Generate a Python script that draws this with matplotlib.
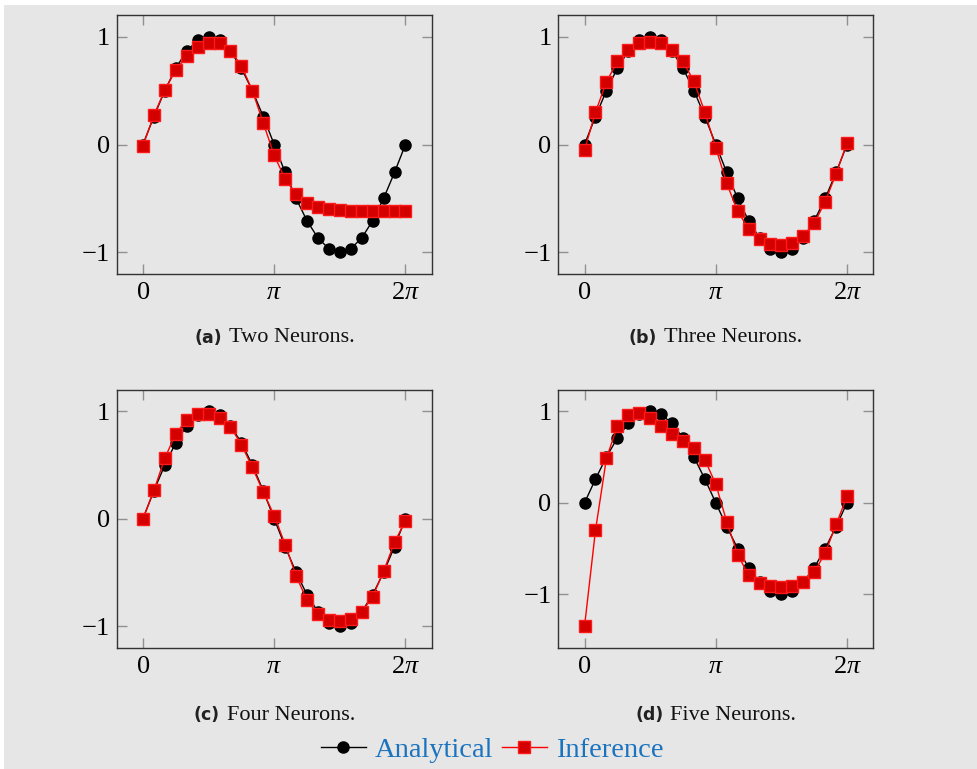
import numpy as np
import matplotlib
matplotlib.use("Agg")
import matplotlib.pyplot as plt
from matplotlib.lines import Line2D

plt.rcParams['mathtext.fontset'] = 'custom'
plt.rcParams['mathtext.rm'] = 'Liberation Serif'
plt.rcParams['mathtext.it'] = 'Liberation Serif:italic'
plt.rcParams['font.family'] = ['Liberation Serif', 'DejaVu Serif']

# ---- data ----
n_points = 25
x_fractions = [i / 12 for i in range(n_points)]  # multiples of pi (0 .. 2)

analytical = [0.0, 0.259, 0.5, 0.707, 0.866, 0.966, 1.0, 0.966, 0.866, 0.707, 0.5, 0.259,
              0.0, -0.259, -0.5, -0.707, -0.866, -0.966, -1.0, -0.966, -0.866, -0.707, -0.5, -0.259, 0.0]

inference_two = [-0.01, 0.27, 0.505, 0.69, 0.82, 0.90, 0.944, 0.938, 0.87, 0.73, 0.50, 0.20,
                 -0.10, -0.32, -0.46, -0.54, -0.58, -0.60, -0.61, -0.613, -0.616, -0.616, -0.616, -0.616, -0.616]
inference_three = [-0.05, 0.30, 0.58, 0.77, 0.88, 0.94, 0.95, 0.94, 0.876, 0.77, 0.585, 0.30,
                   -0.03, -0.36, -0.62, -0.78, -0.876, -0.92, -0.935, -0.913, -0.85, -0.73, -0.53, -0.27, 0.015]
inference_four = [0.0, 0.263, 0.563, 0.79, 0.92, 0.972, 0.978, 0.94, 0.854, 0.69, 0.477, 0.25,
                  0.028, -0.24, -0.53, -0.76, -0.886, -0.94, -0.95, -0.93, -0.867, -0.725, -0.49, -0.22, -0.02]
inference_five = [-1.347, -0.30, 0.485, 0.837, 0.96, 0.978, 0.93, 0.837, 0.75, 0.67, 0.60, 0.47,
                  0.203, -0.207, -0.566, -0.79, -0.874, -0.91, -0.92, -0.91, -0.864, -0.757, -0.548, -0.236, 0.07]

panels = [("(a)", "Two Neurons.", inference_two),
          ("(b)", "Three Neurons.", inference_three),
          ("(c)", "Four Neurons.", inference_four),
          ("(d)", "Five Neurons.", inference_five)]

xtick_labels = ['$0$', r'$\pi$', r'$2\pi$']
ytick_vals = [-1, 0, 1]
ytick_labels = ['$-1$', '$0$', '$1$']

# ---- figure ----
W, H = 978, 769
fig = plt.figure(figsize=(W / 100, H / 100), dpi=100, facecolor='white')
bg = '#e6e6e6'
fig.patches.append(plt.Rectangle((4 / W, 0), (977 - 4) / W, (H - 5) / H,
                                 transform=fig.transFigure, facecolor=bg, edgecolor='none', zorder=-10))

boxes = [(116.7, 15, 431.7, 274), (558.3, 15, 873.3, 274),
         (116.7, 389.7, 431.7, 647.7), (558.3, 389.7, 873.3, 647.7)]
cap_y = [338, 338, 715, 715]

x = np.array(x_fractions) * np.pi
caps = []
for (lab, title, inf), (l, t, r, b), cy in zip(panels, boxes, cap_y):
    ax = fig.add_axes([l / W, 1 - b / H, (r - l) / W, (b - t) / H])
    ax.set_facecolor(bg)
    ax.plot(x, analytical, color='black', lw=1.0, marker='o', ms=8, mfc='black', mec='black', zorder=3)
    ax.plot(x, inf, color='#ff0000', lw=1.0, marker='s', ms=8.5, mfc='#d40000', mec='#ff1a1a', mew=1.0, zorder=4)
    lo = min(min(analytical), min(inf))
    hi = max(max(analytical), max(inf))
    rng = hi - lo
    ax.set_ylim(lo - 0.1 * rng, hi + 0.1 * rng)
    ax.set_xlim(-0.2 * np.pi, 2.2 * np.pi)
    ax.set_xticks([0, np.pi, 2 * np.pi])
    ax.set_xticklabels(xtick_labels)
    ax.set_yticks(ytick_vals)
    ax.set_yticklabels(ytick_labels)
    ax.tick_params(direction='in', length=7.5, width=1.0, color='#909090', labelsize=19,
                   top=True, right=True, pad=5)
    ax.tick_params(axis='x', pad=6)
    for s in ax.spines.values():
        s.set_color('#333333')
        s.set_linewidth(1.0)
    cx = (l + r) / 2
    t1 = fig.text(0, 1 - cy / H, lab, ha='left', va='center', fontsize=12.5,
                  fontweight='bold', family=['DejaVu Sans'], color='#222222')
    t2 = fig.text(0, 1 - cy / H, title, ha='left', va='center', fontsize=16, color='#111111')
    caps.append((t1, t2, cx))

fig.canvas.draw()
rend = fig.canvas.get_renderer()
gap = 7
for t1, t2, cx in caps:
    w1 = t1.get_window_extent(rend).width
    w2 = t2.get_window_extent(rend).width
    total = w1 + gap + w2
    x0 = cx - total / 2
    t1.set_x(x0 / W)
    t2.set_x((x0 + w1 + gap) / W)

handles = [Line2D([0], [0], color='black', lw=1.0, marker='o', ms=8, mfc='black', mec='black'),
           Line2D([0], [0], color='#ff0000', lw=1.0, marker='s', ms=8.5, mfc='#d40000', mec='#ff1a1a')]
leg = fig.legend(handles, ['Analytical', 'Inference'], loc='center', bbox_to_anchor=(492 / W, 1 - 750 / H),
                 ncol=2, frameon=False, fontsize=20.5, handlelength=1.6, handletextpad=0.3,
                 columnspacing=0.3)
for txt in leg.get_texts():
    txt.set_color('#1a73bf')

fig.savefig('out.png', dpi=100, facecolor='white')
